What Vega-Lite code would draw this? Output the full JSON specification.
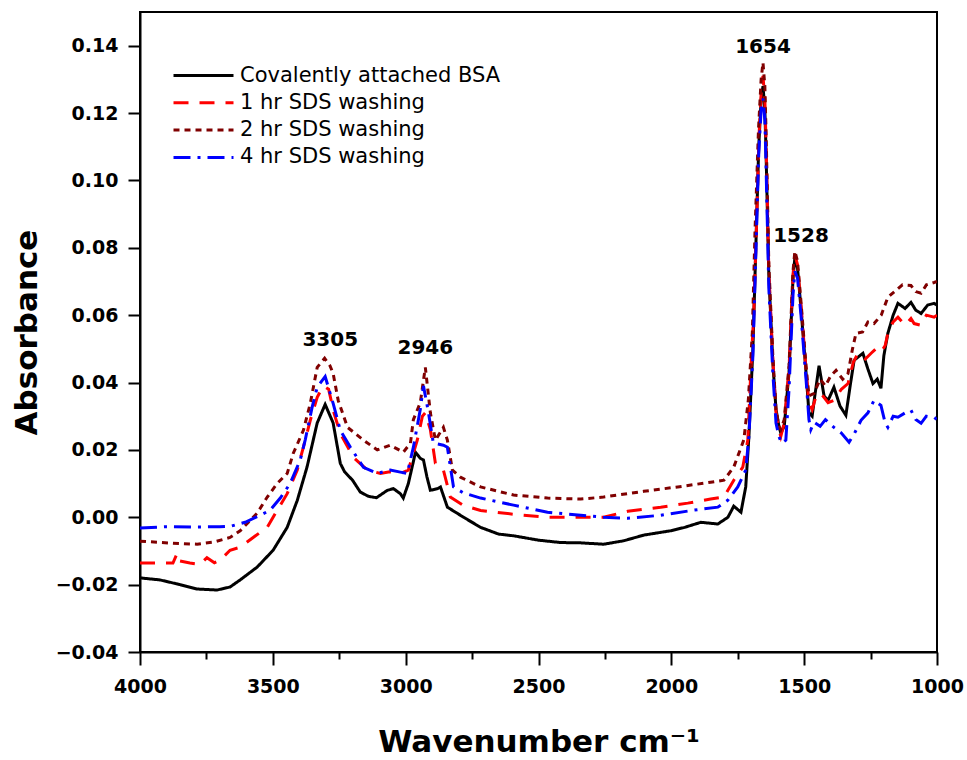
{
  "$schema": "https://vega.github.io/schema/vega-lite/v6.json",
  "width": 797,
  "height": 640,
  "autosize": "none",
  "padding": {"left": 140, "top": 12, "right": 30, "bottom": 108},
  "background": "white",
  "config": {
    "view": {"stroke": "black", "strokeWidth": 2},
    "axis": {
      "grid": false,
      "domainColor": "black",
      "domainWidth": 2,
      "tickColor": "black",
      "tickWidth": 2,
      "labelFont": "DejaVu Sans",
      "labelFontWeight": "bold",
      "labelFontSize": 19,
      "labelColor": "black",
      "titleFont": "DejaVu Sans",
      "titleFontWeight": "bold",
      "titleFontSize": 31,
      "titleColor": "black"
    }
  },
  "layer": [
    {
      "data": {
        "values": [
          {"series": "Covalently attached BSA", "wn": 4000, "abs": -0.018},
          {"series": "Covalently attached BSA", "wn": 3925, "abs": -0.0186},
          {"series": "Covalently attached BSA", "wn": 3849, "abs": -0.020},
          {"series": "Covalently attached BSA", "wn": 3785, "abs": -0.0213},
          {"series": "Covalently attached BSA", "wn": 3710, "abs": -0.0216},
          {"series": "Covalently attached BSA", "wn": 3661, "abs": -0.0207},
          {"series": "Covalently attached BSA", "wn": 3623, "abs": -0.0186},
          {"series": "Covalently attached BSA", "wn": 3559, "abs": -0.0148},
          {"series": "Covalently attached BSA", "wn": 3499, "abs": -0.0098},
          {"series": "Covalently attached BSA", "wn": 3446, "abs": -0.003},
          {"series": "Covalently attached BSA", "wn": 3408, "abs": 0.005},
          {"series": "Covalently attached BSA", "wn": 3371, "abs": 0.015},
          {"series": "Covalently attached BSA", "wn": 3333, "abs": 0.028},
          {"series": "Covalently attached BSA", "wn": 3303, "abs": 0.0335},
          {"series": "Covalently attached BSA", "wn": 3273, "abs": 0.028},
          {"series": "Covalently attached BSA", "wn": 3246, "abs": 0.016},
          {"series": "Covalently attached BSA", "wn": 3230, "abs": 0.0135},
          {"series": "Covalently attached BSA", "wn": 3200, "abs": 0.011},
          {"series": "Covalently attached BSA", "wn": 3171, "abs": 0.0075},
          {"series": "Covalently attached BSA", "wn": 3140, "abs": 0.0062},
          {"series": "Covalently attached BSA", "wn": 3110, "abs": 0.0058},
          {"series": "Covalently attached BSA", "wn": 3069, "abs": 0.0080},
          {"series": "Covalently attached BSA", "wn": 3046, "abs": 0.0085},
          {"series": "Covalently attached BSA", "wn": 3020, "abs": 0.0070},
          {"series": "Covalently attached BSA", "wn": 3009, "abs": 0.0057},
          {"series": "Covalently attached BSA", "wn": 2990, "abs": 0.010},
          {"series": "Covalently attached BSA", "wn": 2963, "abs": 0.0193},
          {"series": "Covalently attached BSA", "wn": 2945, "abs": 0.0175},
          {"series": "Covalently attached BSA", "wn": 2933, "abs": 0.017},
          {"series": "Covalently attached BSA", "wn": 2920, "abs": 0.012},
          {"series": "Covalently attached BSA", "wn": 2907, "abs": 0.008},
          {"series": "Covalently attached BSA", "wn": 2880, "abs": 0.0085},
          {"series": "Covalently attached BSA", "wn": 2869, "abs": 0.009},
          {"series": "Covalently attached BSA", "wn": 2843, "abs": 0.003},
          {"series": "Covalently attached BSA", "wn": 2782, "abs": 0.0},
          {"series": "Covalently attached BSA", "wn": 2718, "abs": -0.003},
          {"series": "Covalently attached BSA", "wn": 2650, "abs": -0.005},
          {"series": "Covalently attached BSA", "wn": 2594, "abs": -0.0055},
          {"series": "Covalently attached BSA", "wn": 2500, "abs": -0.0068},
          {"series": "Covalently attached BSA", "wn": 2417, "abs": -0.0075},
          {"series": "Covalently attached BSA", "wn": 2341, "abs": -0.0076},
          {"series": "Covalently attached BSA", "wn": 2255, "abs": -0.008},
          {"series": "Covalently attached BSA", "wn": 2180, "abs": -0.007},
          {"series": "Covalently attached BSA", "wn": 2104, "abs": -0.0053},
          {"series": "Covalently attached BSA", "wn": 2002, "abs": -0.004},
          {"series": "Covalently attached BSA", "wn": 1950, "abs": -0.003},
          {"series": "Covalently attached BSA", "wn": 1889, "abs": -0.0015},
          {"series": "Covalently attached BSA", "wn": 1825, "abs": -0.002},
          {"series": "Covalently attached BSA", "wn": 1787, "abs": 0.0},
          {"series": "Covalently attached BSA", "wn": 1765, "abs": 0.0033},
          {"series": "Covalently attached BSA", "wn": 1738, "abs": 0.0015},
          {"series": "Covalently attached BSA", "wn": 1720, "abs": 0.009},
          {"series": "Covalently attached BSA", "wn": 1708, "abs": 0.024},
          {"series": "Covalently attached BSA", "wn": 1693, "abs": 0.05},
          {"series": "Covalently attached BSA", "wn": 1682, "abs": 0.08},
          {"series": "Covalently attached BSA", "wn": 1671, "abs": 0.11},
          {"series": "Covalently attached BSA", "wn": 1662, "abs": 0.124},
          {"series": "Covalently attached BSA", "wn": 1655, "abs": 0.128},
          {"series": "Covalently attached BSA", "wn": 1648, "abs": 0.121},
          {"series": "Covalently attached BSA", "wn": 1644, "abs": 0.11},
          {"series": "Covalently attached BSA", "wn": 1633, "abs": 0.072},
          {"series": "Covalently attached BSA", "wn": 1618, "abs": 0.046},
          {"series": "Covalently attached BSA", "wn": 1606, "abs": 0.032},
          {"series": "Covalently attached BSA", "wn": 1595, "abs": 0.027},
          {"series": "Covalently attached BSA", "wn": 1588, "abs": 0.025},
          {"series": "Covalently attached BSA", "wn": 1575, "abs": 0.027},
          {"series": "Covalently attached BSA", "wn": 1557, "abs": 0.043},
          {"series": "Covalently attached BSA", "wn": 1542, "abs": 0.071},
          {"series": "Covalently attached BSA", "wn": 1535, "abs": 0.077},
          {"series": "Covalently attached BSA", "wn": 1525, "abs": 0.074},
          {"series": "Covalently attached BSA", "wn": 1512, "abs": 0.062},
          {"series": "Covalently attached BSA", "wn": 1493, "abs": 0.043},
          {"series": "Covalently attached BSA", "wn": 1482, "abs": 0.031},
          {"series": "Covalently attached BSA", "wn": 1470, "abs": 0.030},
          {"series": "Covalently attached BSA", "wn": 1460, "abs": 0.036},
          {"series": "Covalently attached BSA", "wn": 1444, "abs": 0.045},
          {"series": "Covalently attached BSA", "wn": 1425, "abs": 0.036},
          {"series": "Covalently attached BSA", "wn": 1410, "abs": 0.0347},
          {"series": "Covalently attached BSA", "wn": 1388, "abs": 0.0386},
          {"series": "Covalently attached BSA", "wn": 1365, "abs": 0.033},
          {"series": "Covalently attached BSA", "wn": 1343, "abs": 0.0303},
          {"series": "Covalently attached BSA", "wn": 1325, "abs": 0.040},
          {"series": "Covalently attached BSA", "wn": 1312, "abs": 0.0466},
          {"series": "Covalently attached BSA", "wn": 1279, "abs": 0.0487},
          {"series": "Covalently attached BSA", "wn": 1260, "abs": 0.044},
          {"series": "Covalently attached BSA", "wn": 1241, "abs": 0.0397},
          {"series": "Covalently attached BSA", "wn": 1225, "abs": 0.041},
          {"series": "Covalently attached BSA", "wn": 1211, "abs": 0.0383},
          {"series": "Covalently attached BSA", "wn": 1200, "abs": 0.048},
          {"series": "Covalently attached BSA", "wn": 1185, "abs": 0.0546},
          {"series": "Covalently attached BSA", "wn": 1165, "abs": 0.060},
          {"series": "Covalently attached BSA", "wn": 1147, "abs": 0.0635},
          {"series": "Covalently attached BSA", "wn": 1120, "abs": 0.062},
          {"series": "Covalently attached BSA", "wn": 1098, "abs": 0.0638},
          {"series": "Covalently attached BSA", "wn": 1080, "abs": 0.0615},
          {"series": "Covalently attached BSA", "wn": 1060, "abs": 0.0605},
          {"series": "Covalently attached BSA", "wn": 1035, "abs": 0.063},
          {"series": "Covalently attached BSA", "wn": 1011, "abs": 0.0635},
          {"series": "Covalently attached BSA", "wn": 1000, "abs": 0.063},

          {"series": "1 hr SDS washing", "wn": 4000, "abs": -0.0136},
          {"series": "1 hr SDS washing", "wn": 3920, "abs": -0.0136},
          {"series": "1 hr SDS washing", "wn": 3876, "abs": -0.0136},
          {"series": "1 hr SDS washing", "wn": 3860, "abs": -0.0107},
          {"series": "1 hr SDS washing", "wn": 3850, "abs": -0.013},
          {"series": "1 hr SDS washing", "wn": 3812, "abs": -0.0136},
          {"series": "1 hr SDS washing", "wn": 3774, "abs": -0.014},
          {"series": "1 hr SDS washing", "wn": 3748, "abs": -0.012},
          {"series": "1 hr SDS washing", "wn": 3720, "abs": -0.0135},
          {"series": "1 hr SDS washing", "wn": 3698, "abs": -0.0127},
          {"series": "1 hr SDS washing", "wn": 3661, "abs": -0.0098},
          {"series": "1 hr SDS washing", "wn": 3623, "abs": -0.0089},
          {"series": "1 hr SDS washing", "wn": 3574, "abs": -0.006},
          {"series": "1 hr SDS washing", "wn": 3521, "abs": -0.003},
          {"series": "1 hr SDS washing", "wn": 3499, "abs": 0.0},
          {"series": "1 hr SDS washing", "wn": 3446, "abs": 0.007},
          {"series": "1 hr SDS washing", "wn": 3408, "abs": 0.014},
          {"series": "1 hr SDS washing", "wn": 3385, "abs": 0.0208},
          {"series": "1 hr SDS washing", "wn": 3359, "abs": 0.0288},
          {"series": "1 hr SDS washing", "wn": 3333, "abs": 0.0356},
          {"series": "1 hr SDS washing", "wn": 3310, "abs": 0.039},
          {"series": "1 hr SDS washing", "wn": 3290, "abs": 0.038},
          {"series": "1 hr SDS washing", "wn": 3270, "abs": 0.031},
          {"series": "1 hr SDS washing", "wn": 3246, "abs": 0.0249},
          {"series": "1 hr SDS washing", "wn": 3197, "abs": 0.0178},
          {"series": "1 hr SDS washing", "wn": 3144, "abs": 0.014},
          {"series": "1 hr SDS washing", "wn": 3095, "abs": 0.013},
          {"series": "1 hr SDS washing", "wn": 3060, "abs": 0.0135},
          {"series": "1 hr SDS washing", "wn": 3020, "abs": 0.013},
          {"series": "1 hr SDS washing", "wn": 2990, "abs": 0.014},
          {"series": "1 hr SDS washing", "wn": 2956, "abs": 0.023},
          {"series": "1 hr SDS washing", "wn": 2937, "abs": 0.030},
          {"series": "1 hr SDS washing", "wn": 2926, "abs": 0.031},
          {"series": "1 hr SDS washing", "wn": 2907, "abs": 0.026},
          {"series": "1 hr SDS washing", "wn": 2888, "abs": 0.016},
          {"series": "1 hr SDS washing", "wn": 2858, "abs": 0.014},
          {"series": "1 hr SDS washing", "wn": 2832, "abs": 0.006},
          {"series": "1 hr SDS washing", "wn": 2782, "abs": 0.0035},
          {"series": "1 hr SDS washing", "wn": 2718, "abs": 0.002},
          {"series": "1 hr SDS washing", "wn": 2594, "abs": 0.0009},
          {"series": "1 hr SDS washing", "wn": 2466, "abs": 0.0},
          {"series": "1 hr SDS washing", "wn": 2341, "abs": 0.0},
          {"series": "1 hr SDS washing", "wn": 2255, "abs": 0.0},
          {"series": "1 hr SDS washing", "wn": 2164, "abs": 0.0018},
          {"series": "1 hr SDS washing", "wn": 2040, "abs": 0.003},
          {"series": "1 hr SDS washing", "wn": 1938, "abs": 0.0042},
          {"series": "1 hr SDS washing", "wn": 1852, "abs": 0.0054},
          {"series": "1 hr SDS washing", "wn": 1802, "abs": 0.006},
          {"series": "1 hr SDS washing", "wn": 1765, "abs": 0.011},
          {"series": "1 hr SDS washing", "wn": 1731, "abs": 0.0149},
          {"series": "1 hr SDS washing", "wn": 1712, "abs": 0.023},
          {"series": "1 hr SDS washing", "wn": 1700, "abs": 0.045},
          {"series": "1 hr SDS washing", "wn": 1690, "abs": 0.06},
          {"series": "1 hr SDS washing", "wn": 1680, "abs": 0.085},
          {"series": "1 hr SDS washing", "wn": 1670, "abs": 0.113},
          {"series": "1 hr SDS washing", "wn": 1662, "abs": 0.126},
          {"series": "1 hr SDS washing", "wn": 1655, "abs": 0.131},
          {"series": "1 hr SDS washing", "wn": 1648, "abs": 0.124},
          {"series": "1 hr SDS washing", "wn": 1643, "abs": 0.11},
          {"series": "1 hr SDS washing", "wn": 1633, "abs": 0.073},
          {"series": "1 hr SDS washing", "wn": 1618, "abs": 0.047},
          {"series": "1 hr SDS washing", "wn": 1606, "abs": 0.031},
          {"series": "1 hr SDS washing", "wn": 1595, "abs": 0.026},
          {"series": "1 hr SDS washing", "wn": 1588, "abs": 0.024},
          {"series": "1 hr SDS washing", "wn": 1575, "abs": 0.028},
          {"series": "1 hr SDS washing", "wn": 1557, "abs": 0.044},
          {"series": "1 hr SDS washing", "wn": 1542, "abs": 0.072},
          {"series": "1 hr SDS washing", "wn": 1535, "abs": 0.078},
          {"series": "1 hr SDS washing", "wn": 1525, "abs": 0.075},
          {"series": "1 hr SDS washing", "wn": 1512, "abs": 0.063},
          {"series": "1 hr SDS washing", "wn": 1493, "abs": 0.044},
          {"series": "1 hr SDS washing", "wn": 1482, "abs": 0.034},
          {"series": "1 hr SDS washing", "wn": 1470, "abs": 0.032},
          {"series": "1 hr SDS washing", "wn": 1455, "abs": 0.036},
          {"series": "1 hr SDS washing", "wn": 1437, "abs": 0.0368},
          {"series": "1 hr SDS washing", "wn": 1410, "abs": 0.034},
          {"series": "1 hr SDS washing", "wn": 1388, "abs": 0.0347},
          {"series": "1 hr SDS washing", "wn": 1360, "abs": 0.038},
          {"series": "1 hr SDS washing", "wn": 1335, "abs": 0.0397},
          {"series": "1 hr SDS washing", "wn": 1315, "abs": 0.046},
          {"series": "1 hr SDS washing", "wn": 1297, "abs": 0.0487},
          {"series": "1 hr SDS washing", "wn": 1270, "abs": 0.047},
          {"series": "1 hr SDS washing", "wn": 1248, "abs": 0.0487},
          {"series": "1 hr SDS washing", "wn": 1230, "abs": 0.050},
          {"series": "1 hr SDS washing", "wn": 1211, "abs": 0.049},
          {"series": "1 hr SDS washing", "wn": 1195, "abs": 0.051},
          {"series": "1 hr SDS washing", "wn": 1185, "abs": 0.0546},
          {"series": "1 hr SDS washing", "wn": 1165, "abs": 0.058},
          {"series": "1 hr SDS washing", "wn": 1147, "abs": 0.0594},
          {"series": "1 hr SDS washing", "wn": 1120, "abs": 0.057},
          {"series": "1 hr SDS washing", "wn": 1098, "abs": 0.059},
          {"series": "1 hr SDS washing", "wn": 1086, "abs": 0.0575},
          {"series": "1 hr SDS washing", "wn": 1060, "abs": 0.057},
          {"series": "1 hr SDS washing", "wn": 1040, "abs": 0.060},
          {"series": "1 hr SDS washing", "wn": 1011, "abs": 0.0594},
          {"series": "1 hr SDS washing", "wn": 1000, "abs": 0.060},

          {"series": "2 hr SDS washing", "wn": 4000, "abs": -0.0071},
          {"series": "2 hr SDS washing", "wn": 3876, "abs": -0.0077},
          {"series": "2 hr SDS washing", "wn": 3785, "abs": -0.008},
          {"series": "2 hr SDS washing", "wn": 3725, "abs": -0.0074},
          {"series": "2 hr SDS washing", "wn": 3661, "abs": -0.006},
          {"series": "2 hr SDS washing", "wn": 3623, "abs": -0.004},
          {"series": "2 hr SDS washing", "wn": 3559, "abs": 0.0012},
          {"series": "2 hr SDS washing", "wn": 3521, "abs": 0.006},
          {"series": "2 hr SDS washing", "wn": 3484, "abs": 0.010},
          {"series": "2 hr SDS washing", "wn": 3446, "abs": 0.013},
          {"series": "2 hr SDS washing", "wn": 3423, "abs": 0.019},
          {"series": "2 hr SDS washing", "wn": 3385, "abs": 0.0258},
          {"series": "2 hr SDS washing", "wn": 3359, "abs": 0.0338},
          {"series": "2 hr SDS washing", "wn": 3333, "abs": 0.0445},
          {"series": "2 hr SDS washing", "wn": 3305, "abs": 0.0472},
          {"series": "2 hr SDS washing", "wn": 3285, "abs": 0.045},
          {"series": "2 hr SDS washing", "wn": 3273, "abs": 0.0427},
          {"series": "2 hr SDS washing", "wn": 3254, "abs": 0.0347},
          {"series": "2 hr SDS washing", "wn": 3219, "abs": 0.0267},
          {"series": "2 hr SDS washing", "wn": 3159, "abs": 0.0229},
          {"series": "2 hr SDS washing", "wn": 3107, "abs": 0.020},
          {"series": "2 hr SDS washing", "wn": 3058, "abs": 0.0214},
          {"series": "2 hr SDS washing", "wn": 3009, "abs": 0.0193},
          {"series": "2 hr SDS washing", "wn": 2982, "abs": 0.022},
          {"series": "2 hr SDS washing", "wn": 2971, "abs": 0.029},
          {"series": "2 hr SDS washing", "wn": 2945, "abs": 0.034},
          {"series": "2 hr SDS washing", "wn": 2926, "abs": 0.0445},
          {"series": "2 hr SDS washing", "wn": 2907, "abs": 0.031},
          {"series": "2 hr SDS washing", "wn": 2888, "abs": 0.0229},
          {"series": "2 hr SDS washing", "wn": 2858, "abs": 0.0267},
          {"series": "2 hr SDS washing", "wn": 2843, "abs": 0.0229},
          {"series": "2 hr SDS washing", "wn": 2824, "abs": 0.014},
          {"series": "2 hr SDS washing", "wn": 2794, "abs": 0.0119},
          {"series": "2 hr SDS washing", "wn": 2718, "abs": 0.009},
          {"series": "2 hr SDS washing", "wn": 2594, "abs": 0.0066},
          {"series": "2 hr SDS washing", "wn": 2466, "abs": 0.0057},
          {"series": "2 hr SDS washing", "wn": 2341, "abs": 0.0054},
          {"series": "2 hr SDS washing", "wn": 2255, "abs": 0.006},
          {"series": "2 hr SDS washing", "wn": 2104, "abs": 0.0077},
          {"series": "2 hr SDS washing", "wn": 1976, "abs": 0.009},
          {"series": "2 hr SDS washing", "wn": 1852, "abs": 0.0104},
          {"series": "2 hr SDS washing", "wn": 1802, "abs": 0.011},
          {"series": "2 hr SDS washing", "wn": 1765, "abs": 0.0149},
          {"series": "2 hr SDS washing", "wn": 1727, "abs": 0.023},
          {"series": "2 hr SDS washing", "wn": 1710, "abs": 0.035},
          {"series": "2 hr SDS washing", "wn": 1695, "abs": 0.055},
          {"series": "2 hr SDS washing", "wn": 1685, "abs": 0.085},
          {"series": "2 hr SDS washing", "wn": 1672, "abs": 0.115},
          {"series": "2 hr SDS washing", "wn": 1662, "abs": 0.130},
          {"series": "2 hr SDS washing", "wn": 1655, "abs": 0.135},
          {"series": "2 hr SDS washing", "wn": 1648, "abs": 0.128},
          {"series": "2 hr SDS washing", "wn": 1643, "abs": 0.113},
          {"series": "2 hr SDS washing", "wn": 1633, "abs": 0.075},
          {"series": "2 hr SDS washing", "wn": 1618, "abs": 0.048},
          {"series": "2 hr SDS washing", "wn": 1606, "abs": 0.032},
          {"series": "2 hr SDS washing", "wn": 1595, "abs": 0.027},
          {"series": "2 hr SDS washing", "wn": 1588, "abs": 0.026},
          {"series": "2 hr SDS washing", "wn": 1575, "abs": 0.029},
          {"series": "2 hr SDS washing", "wn": 1557, "abs": 0.045},
          {"series": "2 hr SDS washing", "wn": 1542, "abs": 0.073},
          {"series": "2 hr SDS washing", "wn": 1535, "abs": 0.079},
          {"series": "2 hr SDS washing", "wn": 1525, "abs": 0.076},
          {"series": "2 hr SDS washing", "wn": 1512, "abs": 0.064},
          {"series": "2 hr SDS washing", "wn": 1493, "abs": 0.045},
          {"series": "2 hr SDS washing", "wn": 1482, "abs": 0.036},
          {"series": "2 hr SDS washing", "wn": 1463, "abs": 0.0368},
          {"series": "2 hr SDS washing", "wn": 1440, "abs": 0.041},
          {"series": "2 hr SDS washing", "wn": 1420, "abs": 0.039},
          {"series": "2 hr SDS washing", "wn": 1400, "abs": 0.042},
          {"series": "2 hr SDS washing", "wn": 1380, "abs": 0.0436},
          {"series": "2 hr SDS washing", "wn": 1355, "abs": 0.041},
          {"series": "2 hr SDS washing", "wn": 1335, "abs": 0.0427},
          {"series": "2 hr SDS washing", "wn": 1318, "abs": 0.050},
          {"series": "2 hr SDS washing", "wn": 1305, "abs": 0.0546},
          {"series": "2 hr SDS washing", "wn": 1280, "abs": 0.055},
          {"series": "2 hr SDS washing", "wn": 1260, "abs": 0.058},
          {"series": "2 hr SDS washing", "wn": 1237, "abs": 0.0575},
          {"series": "2 hr SDS washing", "wn": 1210, "abs": 0.060},
          {"series": "2 hr SDS washing", "wn": 1185, "abs": 0.0653},
          {"series": "2 hr SDS washing", "wn": 1160, "abs": 0.067},
          {"series": "2 hr SDS washing", "wn": 1130, "abs": 0.069},
          {"series": "2 hr SDS washing", "wn": 1098, "abs": 0.0688},
          {"series": "2 hr SDS washing", "wn": 1080, "abs": 0.067},
          {"series": "2 hr SDS washing", "wn": 1060, "abs": 0.0665},
          {"series": "2 hr SDS washing", "wn": 1040, "abs": 0.069},
          {"series": "2 hr SDS washing", "wn": 1011, "abs": 0.0697},
          {"series": "2 hr SDS washing", "wn": 1000, "abs": 0.070},

          {"series": "4 hr SDS washing", "wn": 4000, "abs": -0.0032},
          {"series": "4 hr SDS washing", "wn": 3900, "abs": -0.0028},
          {"series": "4 hr SDS washing", "wn": 3800, "abs": -0.0029},
          {"series": "4 hr SDS washing", "wn": 3700, "abs": -0.0028},
          {"series": "4 hr SDS washing", "wn": 3661, "abs": -0.0027},
          {"series": "4 hr SDS washing", "wn": 3604, "abs": -0.0015},
          {"series": "4 hr SDS washing", "wn": 3548, "abs": 0.0006},
          {"series": "4 hr SDS washing", "wn": 3510, "abs": 0.0021},
          {"series": "4 hr SDS washing", "wn": 3472, "abs": 0.0057},
          {"series": "4 hr SDS washing", "wn": 3435, "abs": 0.010},
          {"series": "4 hr SDS washing", "wn": 3397, "abs": 0.017},
          {"series": "4 hr SDS washing", "wn": 3378, "abs": 0.023},
          {"series": "4 hr SDS washing", "wn": 3352, "abs": 0.0327},
          {"series": "4 hr SDS washing", "wn": 3333, "abs": 0.0386},
          {"series": "4 hr SDS washing", "wn": 3303, "abs": 0.0418},
          {"series": "4 hr SDS washing", "wn": 3273, "abs": 0.0338},
          {"series": "4 hr SDS washing", "wn": 3246, "abs": 0.0258},
          {"series": "4 hr SDS washing", "wn": 3208, "abs": 0.0208},
          {"series": "4 hr SDS washing", "wn": 3159, "abs": 0.0148},
          {"series": "4 hr SDS washing", "wn": 3107, "abs": 0.013},
          {"series": "4 hr SDS washing", "wn": 3058, "abs": 0.014},
          {"series": "4 hr SDS washing", "wn": 3020, "abs": 0.0134},
          {"series": "4 hr SDS washing", "wn": 2994, "abs": 0.013},
          {"series": "4 hr SDS washing", "wn": 2971, "abs": 0.0208},
          {"series": "4 hr SDS washing", "wn": 2945, "abs": 0.032},
          {"series": "4 hr SDS washing", "wn": 2933, "abs": 0.039},
          {"series": "4 hr SDS washing", "wn": 2914, "abs": 0.031},
          {"series": "4 hr SDS washing", "wn": 2896, "abs": 0.022},
          {"series": "4 hr SDS washing", "wn": 2858, "abs": 0.0214},
          {"series": "4 hr SDS washing", "wn": 2843, "abs": 0.0208},
          {"series": "4 hr SDS washing", "wn": 2820, "abs": 0.009},
          {"series": "4 hr SDS washing", "wn": 2782, "abs": 0.0072},
          {"series": "4 hr SDS washing", "wn": 2718, "abs": 0.0057},
          {"series": "4 hr SDS washing", "wn": 2594, "abs": 0.0036},
          {"series": "4 hr SDS washing", "wn": 2466, "abs": 0.0015},
          {"series": "4 hr SDS washing", "wn": 2341, "abs": 0.0006},
          {"series": "4 hr SDS washing", "wn": 2255, "abs": 0.0},
          {"series": "4 hr SDS washing", "wn": 2164, "abs": -0.0003},
          {"series": "4 hr SDS washing", "wn": 2040, "abs": 0.0006},
          {"series": "4 hr SDS washing", "wn": 1916, "abs": 0.0021},
          {"series": "4 hr SDS washing", "wn": 1825, "abs": 0.003},
          {"series": "4 hr SDS washing", "wn": 1787, "abs": 0.0051},
          {"series": "4 hr SDS washing", "wn": 1750, "abs": 0.009},
          {"series": "4 hr SDS washing", "wn": 1720, "abs": 0.014},
          {"series": "4 hr SDS washing", "wn": 1708, "abs": 0.024},
          {"series": "4 hr SDS washing", "wn": 1693, "abs": 0.048},
          {"series": "4 hr SDS washing", "wn": 1682, "abs": 0.078},
          {"series": "4 hr SDS washing", "wn": 1671, "abs": 0.108},
          {"series": "4 hr SDS washing", "wn": 1662, "abs": 0.121},
          {"series": "4 hr SDS washing", "wn": 1655, "abs": 0.1243},
          {"series": "4 hr SDS washing", "wn": 1648, "abs": 0.118},
          {"series": "4 hr SDS washing", "wn": 1644, "abs": 0.106},
          {"series": "4 hr SDS washing", "wn": 1633, "abs": 0.068},
          {"series": "4 hr SDS washing", "wn": 1618, "abs": 0.043},
          {"series": "4 hr SDS washing", "wn": 1606, "abs": 0.028},
          {"series": "4 hr SDS washing", "wn": 1595, "abs": 0.024},
          {"series": "4 hr SDS washing", "wn": 1585, "abs": 0.022},
          {"series": "4 hr SDS washing", "wn": 1569, "abs": 0.0229},
          {"series": "4 hr SDS washing", "wn": 1557, "abs": 0.038},
          {"series": "4 hr SDS washing", "wn": 1542, "abs": 0.066},
          {"series": "4 hr SDS washing", "wn": 1535, "abs": 0.073},
          {"series": "4 hr SDS washing", "wn": 1525, "abs": 0.071},
          {"series": "4 hr SDS washing", "wn": 1512, "abs": 0.060},
          {"series": "4 hr SDS washing", "wn": 1493, "abs": 0.041},
          {"series": "4 hr SDS washing", "wn": 1482, "abs": 0.029},
          {"series": "4 hr SDS washing", "wn": 1475, "abs": 0.026},
          {"series": "4 hr SDS washing", "wn": 1463, "abs": 0.0282},
          {"series": "4 hr SDS washing", "wn": 1440, "abs": 0.027},
          {"series": "4 hr SDS washing", "wn": 1420, "abs": 0.029},
          {"series": "4 hr SDS washing", "wn": 1388, "abs": 0.0267},
          {"series": "4 hr SDS washing", "wn": 1360, "abs": 0.025},
          {"series": "4 hr SDS washing", "wn": 1331, "abs": 0.0223},
          {"series": "4 hr SDS washing", "wn": 1310, "abs": 0.025},
          {"series": "4 hr SDS washing", "wn": 1286, "abs": 0.0288},
          {"series": "4 hr SDS washing", "wn": 1260, "abs": 0.031},
          {"series": "4 hr SDS washing", "wn": 1237, "abs": 0.0347},
          {"series": "4 hr SDS washing", "wn": 1211, "abs": 0.0332},
          {"series": "4 hr SDS washing", "wn": 1195, "abs": 0.028},
          {"series": "4 hr SDS washing", "wn": 1185, "abs": 0.0267},
          {"series": "4 hr SDS washing", "wn": 1165, "abs": 0.030},
          {"series": "4 hr SDS washing", "wn": 1147, "abs": 0.0297},
          {"series": "4 hr SDS washing", "wn": 1120, "abs": 0.031},
          {"series": "4 hr SDS washing", "wn": 1098, "abs": 0.0318},
          {"series": "4 hr SDS washing", "wn": 1080, "abs": 0.029},
          {"series": "4 hr SDS washing", "wn": 1060, "abs": 0.0279},
          {"series": "4 hr SDS washing", "wn": 1040, "abs": 0.030},
          {"series": "4 hr SDS washing", "wn": 1011, "abs": 0.0297},
          {"series": "4 hr SDS washing", "wn": 1000, "abs": 0.029}
        ]
      },
      "mark": {"type": "line", "strokeWidth": 3, "clip": true},
      "encoding": {
        "x": {
          "field": "wn",
          "type": "quantitative",
          "scale": {"domain": [1000, 4000], "reverse": true, "nice": false, "zero": false},
          "axis": {
            "values": [4000, 3750, 3500, 3250, 3000, 2750, 2500, 2250, 2000, 1750, 1500, 1250, 1000],
            "labelExpr": "datum.value % 500 === 0 ? format(datum.value, 'd') : ''",
            "tickSize": {"condition": {"test": "datum.value % 500 === 0", "value": 13}, "value": 7},
            "labelPadding": 12,
            "labelFlush": false,
            "labelOverlap": false,
            "titlePadding": 31
          },
          "title": "Wavenumber cm⁻¹"
        },
        "y": {
          "field": "abs",
          "type": "quantitative",
          "scale": {"domain": [-0.04, 0.15], "nice": false, "zero": false},
          "axis": {
            "values": [-0.04, -0.03, -0.02, -0.01, 0, 0.01, 0.02, 0.03, 0.04, 0.05, 0.06, 0.07, 0.08, 0.09, 0.10, 0.11, 0.12, 0.13, 0.14],
            "labelExpr": "round(datum.value * 100) % 2 === 0 ? format(datum.value, '.2f') : ''",
            "tickSize": {"condition": {"test": "round(datum.value * 100) % 2 === 0", "value": 12}, "value": 7},
            "labelPadding": 10,
            "labelFlush": false,
            "labelOverlap": false,
            "titlePadding": 12
          },
          "title": "Absorbance"
        },
        "color": {
          "field": "series",
          "type": "nominal",
          "scale": {
            "domain": ["Covalently attached BSA", "1 hr SDS washing", "2 hr SDS washing", "4 hr SDS washing"],
            "range": ["#000000", "#FF0000", "#800000", "#0000FF"]
          },
          "legend": {
            "title": null,
            "orient": "none",
            "legendX": 32,
            "legendY": 50,
            "padding": 0,
            "symbolType": "stroke",
            "symbolSize": 3600,
            "symbolStrokeWidth": 3,
            "clipHeight": 27,
            "rowPadding": 0.3,
            "labelFont": "DejaVu Sans",
            "labelFontSize": 21,
            "labelColor": "black",
            "labelOffset": 5,
            "labelLimit": 400
          }
        },
        "strokeDash": {
          "field": "series",
          "type": "nominal",
          "scale": {
            "domain": ["Covalently attached BSA", "1 hr SDS washing", "2 hr SDS washing", "4 hr SDS washing"],
            "range": [[1, 0], [15, 11], [6, 5], [17, 7, 3, 7]]
          },
          "legend": null
        }
      }
    },
    {
      "data": {
        "values": [
          {"label": "3305", "wn": 3284, "abs": 0.0525},
          {"label": "2946", "wn": 2926, "abs": 0.0502},
          {"label": "1654", "wn": 1655, "abs": 0.1397},
          {"label": "1528", "wn": 1512, "abs": 0.0834}
        ]
      },
      "mark": {"type": "text", "font": "DejaVu Sans", "fontWeight": "bold", "fontSize": 20, "color": "black", "baseline": "middle", "align": "center"},
      "encoding": {
        "x": {"field": "wn", "type": "quantitative"},
        "y": {"field": "abs", "type": "quantitative"},
        "text": {"field": "label"}
      }
    }
  ]
}
